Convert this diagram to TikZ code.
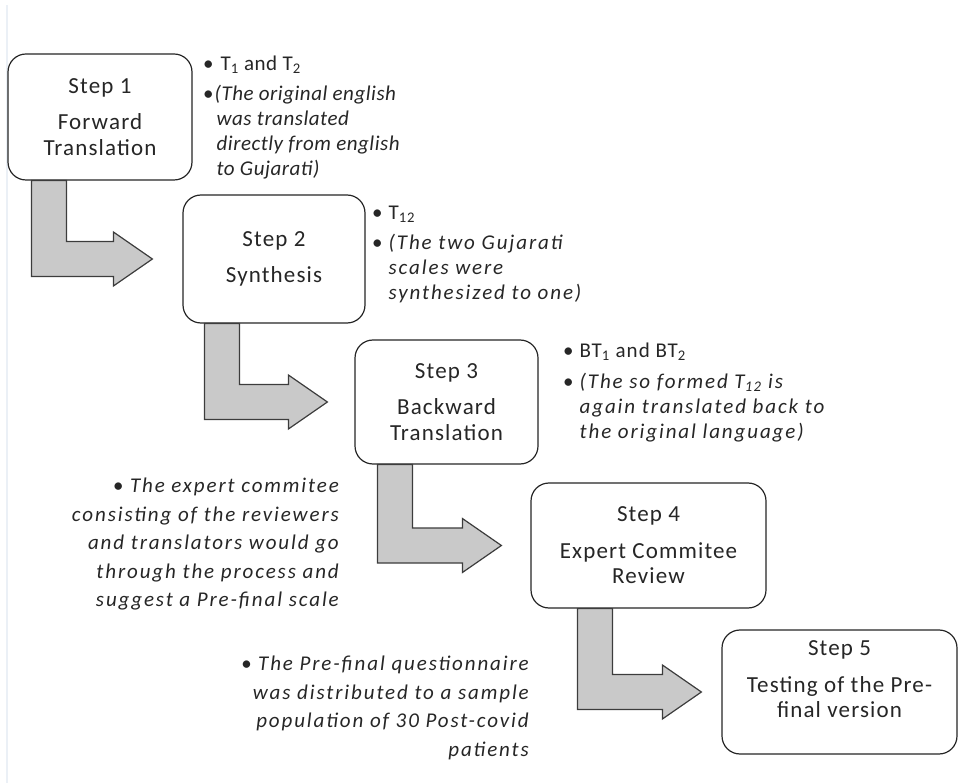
\documentclass[tikz,border=0pt]{standalone}
\usepackage{fontspec}
\usepackage{array}
\setmainfont{Carlito}
\newfontfamily\boxfont[LetterSpace=5]{Carlito}
\newfontfamily\tightfont[LetterSpace=2.5]{Carlito}
\newfontfamily\widefont[LetterSpace=9]{Carlito}
\usetikzlibrary{calc}
\definecolor{inkgray}{HTML}{262626}
\definecolor{arrfill}{HTML}{C9C9C9}
\definecolor{edgeline}{HTML}{EBF0F6}
\tikzset{
  stepbox/.style={rectangle, rounded corners=18pt, draw=inkgray, line width=1.2pt, fill=white,
                  align=center, inner sep=0pt, text=inkgray, font=\boxfont\fontsize{23}{25.5}\selectfont},
  note/.style={inner sep=0pt, text=inkgray, font=\fontsize{21}{25}\selectfont},
  bendarr/.style={draw=inkgray!90, fill=arrfill, line width=1.2pt, line join=miter},
}
% bent arrow: from box, to box, shaft offset, gap before next box
\newcommand{\bendarrow}[4]{%
  \draw[bendarr] let \p1=($(#1.south west)+(#3,0)$), \p2=($(#2.west)+(-#4,0)$) in
    (\x1,\y1) -- (\x1+35pt,\y1) -- (\x1+35pt,\y2+17.5pt) -- (\x2-39pt,\y2+17.5pt)
    -- (\x2-39pt,\y2+27pt) -- (\x2,\y2) -- (\x2-39pt,\y2-27pt) -- (\x2-39pt,\y2-17.5pt)
    -- (\x1,\y2-17.5pt) -- cycle;
}
\begin{document}
\begin{tikzpicture}[x=1pt,y=-1pt]
  \useasboundingbox (0,0) rectangle (959,783);
  \draw[edgeline, line width=1.5pt] (7,5) -- (7,783);

  % steps
  \node[stepbox, minimum width=184pt, minimum height=126pt] (b1) at (100,117)
    {Step 1\\[11pt]Forward\\Translation};
  \node[stepbox, minimum width=182pt, minimum height=128pt] (b2) at (274,259)
    {Step 2\\[11pt]Synthesis};
  \node[stepbox, minimum width=183pt, minimum height=124pt] (b3) at (446.5,402)
    {Step 3\\[11pt]Backward\\Translation};
  \node[stepbox, minimum width=235pt, minimum height=125pt] (b4) at (648.5,545.5)
    {Step 4\\[11pt]Expert Commitee\\Review};
  \node[stepbox, minimum width=235pt, minimum height=124pt] (b5) at (839.5,692)
    {Step 5\\[11pt]Testing of the Pre-\\final version\\\mbox{}};

  \bendarrow{b1}{b2}{24}{30}
  \bendarrow{b2}{b3}{22}{27}
  \bendarrow{b3}{b4}{23}{29}
  \bendarrow{b4}{b5}{47}{20}

  % notes
  \node[note, anchor=north west, font=\tightfont\fontsize{21}{25}\selectfont] (n1) at (203,53)
    {\begin{tabular}{@{}l@{\hspace{3pt}}>{\itshape}l@{}}
      \textbullet & \upshape\hspace{4pt}T\textsubscript{1} and T\textsubscript{2}\\[5pt]
      \textbullet & \hspace{-2pt}(The original english\\
      & was translated\\
      & directly from english\\
      & to Gujarati)
     \end{tabular}};
  \node[note, anchor=north west] (n2) at (372,202)
    {\begin{tabular}{@{}l@{\hspace{6pt}}>{\widefont\itshape}l@{}}
      \textbullet & \boxfont\upshape T\textsubscript{12}\\[5pt]
      \textbullet & (The two Gujarati\\
      & scales were\\
      & synthesized to one)
     \end{tabular}};
  \node[note, anchor=north west] (n3) at (563,340)
    {\begin{tabular}{@{}l@{\hspace{6pt}}>{\widefont\itshape}l@{}}
      \textbullet & \boxfont\upshape BT\textsubscript{1} and BT\textsubscript{2}\\[6pt]
      \textbullet & (The so formed T\textsubscript{12} is\\
      & again translated back to\\
      & the original language)
     \end{tabular}};
  \node[note, anchor=north east, align=right, font=\widefont\fontsize{21}{28.5}\selectfont\itshape] (n4) at (339,478)
    {\textbullet{} The expert commitee\\consisting of the reviewers\\and translators would go\\
     through the process and\\suggest a Pre-final scale};
  \node[note, anchor=north east, align=right, font=\widefont\fontsize{21}{28.5}\selectfont\itshape] (n5) at (529,656)
    {\textbullet{} The Pre-final questionnaire\\was distributed to a sample\\population of 30 Post-covid\\patients};
\end{tikzpicture}
\end{document}
